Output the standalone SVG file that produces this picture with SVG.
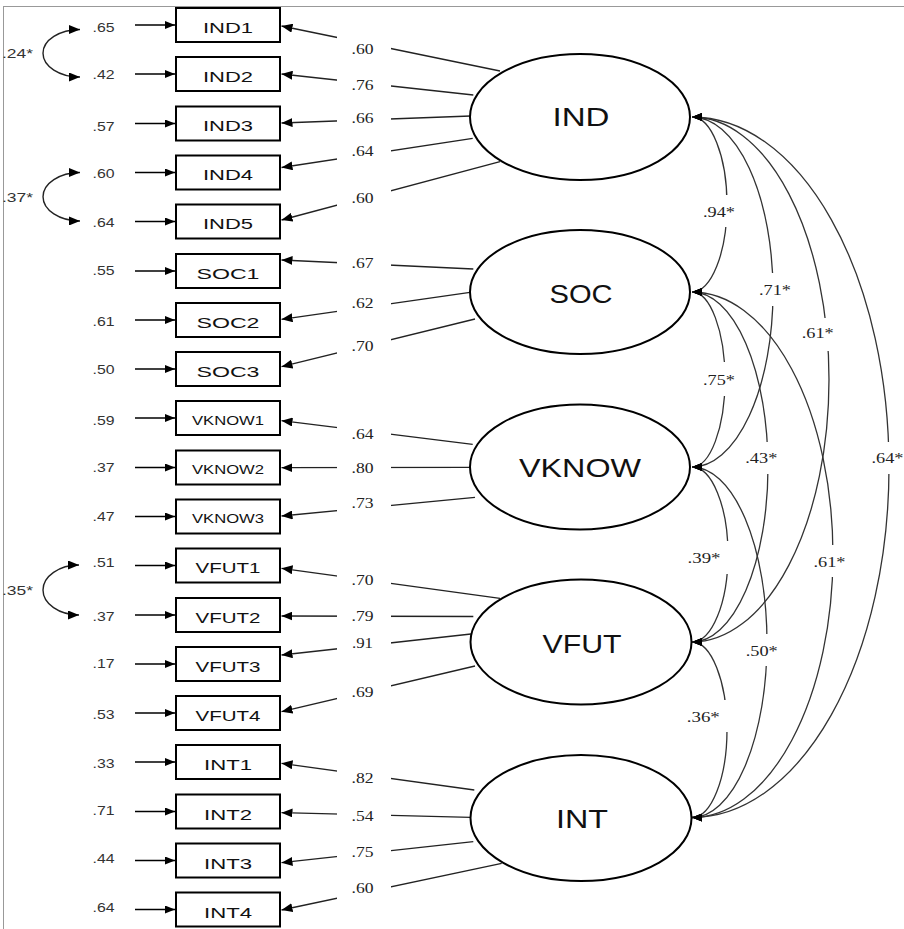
<svg xmlns="http://www.w3.org/2000/svg" width="904" height="929" viewBox="0 0 904 929">
<style>
.box{fill:#fff;stroke:#000;stroke-width:2}
.lat{fill:#fff;stroke:#000;stroke-width:2}
.bt{font-family:"Liberation Sans",Arial,sans-serif;font-size:15px;fill:#111;text-anchor:middle}
.bts{font-family:"Liberation Sans",Arial,sans-serif;font-size:13px;fill:#111;text-anchor:middle}
.lt{font-family:"Liberation Sans",Arial,sans-serif;font-size:26px;fill:#111;text-anchor:middle}
.el{font-family:"Liberation Sans",Arial,sans-serif;font-size:13px;fill:#333;text-anchor:middle}
.cl{font-family:"Liberation Sans",Arial,sans-serif;font-size:13px;fill:#333}
.ld{font-family:"Liberation Serif","Times New Roman",serif;font-size:14px;fill:#222;text-anchor:middle}
.err{stroke:#000;stroke-width:1.4;fill:none;marker-end:url(#ah)}
.load{stroke:#222;stroke-width:1.3;fill:none;marker-end:url(#ahL)}
.cov{stroke:#333;stroke-width:1.3;fill:none;marker-start:url(#ah);marker-end:url(#ah)}
.lcov{stroke:#222;stroke-width:1.4;fill:none;marker-start:url(#ahC);marker-end:url(#ahC)}
</style>
<defs>
<marker id="ah" viewBox="0 0 10 8" refX="10" refY="4" markerWidth="10" markerHeight="8" markerUnits="userSpaceOnUse" orient="auto-start-reverse"><path d="M0,0 L10,4 L0,8 z" fill="#000"/></marker>
<marker id="ahL" viewBox="0 0 11 9" refX="11" refY="4.5" markerWidth="11" markerHeight="9" markerUnits="userSpaceOnUse" orient="auto-start-reverse"><path d="M0,0 L11,4.5 L0,9 z" fill="#000"/></marker>
<marker id="ahC" viewBox="0 0 11 9" refX="11" refY="4.5" markerWidth="11" markerHeight="9" markerUnits="userSpaceOnUse" orient="auto-start-reverse"><path d="M0,0 L11,4.5 L0,9 z" fill="#000"/></marker>
<mask id="loadGap" maskUnits="userSpaceOnUse" x="0" y="0" width="904" height="929">
<rect x="0" y="0" width="904" height="929" fill="#fff"/>
<rect x="337" y="0" width="54" height="929" fill="#000"/>
</mask>
<mask id="covGap" maskUnits="userSpaceOnUse" x="0" y="0" width="904" height="929">
<rect x="0" y="0" width="904" height="929" fill="#fff"/>
<rect x="719" y="195" width="16" height="32" fill="#000"/>
<rect x="765" y="273" width="16" height="33" fill="#000"/>
<rect x="817" y="318" width="20" height="33" fill="#000"/>
<rect x="717" y="362" width="16" height="34" fill="#000"/>
<rect x="760" y="442" width="16" height="32" fill="#000"/>
<rect x="881" y="442" width="16" height="32" fill="#000"/>
<rect x="720" y="541" width="16" height="33" fill="#000"/>
<rect x="825" y="545" width="16" height="32" fill="#000"/>
<rect x="759" y="634" width="16" height="32" fill="#000"/>
<rect x="719" y="700" width="16" height="32" fill="#000"/>
</mask>
</defs>
<rect x="0" y="0" width="904" height="929" fill="#fff"/>
<g id="frame" stroke="#999" stroke-width="1" fill="none">
<line x1="3" y1="6.5" x2="904" y2="6.5"/>
<line x1="3.5" y1="6" x2="3.5" y2="929"/>
</g>

<g id="connectors">
<g id="error-arrows">
<line class="err" x1="135" y1="25" x2="175" y2="25"/>
<line class="err" x1="135" y1="74" x2="175" y2="74"/>
<line class="err" x1="135" y1="123.5" x2="175" y2="123.5"/>
<line class="err" x1="135" y1="172.5" x2="175" y2="172.5"/>
<line class="err" x1="135" y1="221.5" x2="175" y2="221.5"/>
<line class="err" x1="135" y1="271" x2="175" y2="271"/>
<line class="err" x1="135" y1="320" x2="175" y2="320"/>
<line class="err" x1="135" y1="369" x2="175" y2="369"/>
<line class="err" x1="135" y1="418" x2="175" y2="418"/>
<line class="err" x1="135" y1="467.5" x2="175" y2="467.5"/>
<line class="err" x1="135" y1="516.5" x2="175" y2="516.5"/>
<line class="err" x1="135" y1="565.5" x2="175" y2="565.5"/>
<line class="err" x1="135" y1="615" x2="175" y2="615"/>
<line class="err" x1="135" y1="664" x2="175" y2="664"/>
<line class="err" x1="135" y1="713" x2="175" y2="713"/>
<line class="err" x1="135" y1="762" x2="175" y2="762"/>
<line class="err" x1="135" y1="811.5" x2="175" y2="811.5"/>
<line class="err" x1="135" y1="860.5" x2="175" y2="860.5"/>
<line class="err" x1="135" y1="909.5" x2="175" y2="909.5"/>
</g>
<g id="error-covariances">
<path class="lcov" d="M80 29.5 A37 23.75 0 0 0 80 77"/>
<path class="lcov" d="M80 172.5 A37 24.25 0 0 0 80 221"/>
<path class="lcov" d="M79 565 A36 25 0 0 0 79 615"/>
</g>
<g id="loadings" mask="url(#loadGap)">
<line class="load" x1="500" y1="71" x2="281.5" y2="26"/>
<line class="load" x1="473.3" y1="95" x2="281.5" y2="74"/>
<line class="load" x1="470.7" y1="116" x2="281.5" y2="123"/>
<line class="load" x1="472.7" y1="138.3" x2="281.5" y2="167.5"/>
<line class="load" x1="500" y1="161.7" x2="281.5" y2="220"/>
<line class="load" x1="473.3" y1="269" x2="281.5" y2="260"/>
<line class="load" x1="470" y1="292.3" x2="281.5" y2="319.3"/>
<line class="load" x1="475" y1="319" x2="281.5" y2="366.7"/>
<line class="load" x1="472.7" y1="444.3" x2="281.5" y2="420.7"/>
<line class="load" x1="470.7" y1="467.3" x2="281.5" y2="467.7"/>
<line class="load" x1="475" y1="497.3" x2="281.5" y2="516"/>
<line class="load" x1="500" y1="598.3" x2="281.5" y2="568.3"/>
<line class="load" x1="473.3" y1="616.5" x2="281.5" y2="616"/>
<line class="load" x1="471" y1="634" x2="281.5" y2="655"/>
<line class="load" x1="475" y1="666" x2="281.5" y2="711.7"/>
<line class="load" x1="474.3" y1="790" x2="281.5" y2="763.3"/>
<line class="load" x1="471" y1="817.3" x2="281.5" y2="812.7"/>
<line class="load" x1="473.3" y1="841.7" x2="281.5" y2="862.7"/>
<line class="load" x1="501.7" y1="863.3" x2="281.5" y2="910"/>
</g>
<g id="factor-covariances" mask="url(#covGap)">
<path class="cov" d="M692 117 A35 87.5 0 0 1 692 292"/>
<path class="cov" d="M692 117 A81 175 0 0 1 692 467"/>
<path class="cov" d="M692 117 A137 262.5 0 0 1 692 642"/>
<path class="cov" d="M692 117 A197 350.25 0 0 1 692 817.5"/>
<path class="cov" d="M692 292 A33 87.5 0 0 1 692 467"/>
<path class="cov" d="M692 292 A76 175 0 0 1 692 642"/>
<path class="cov" d="M692 292 A141 262.75 0 0 1 692 817.5"/>
<path class="cov" d="M692 467 A36 87.5 0 0 1 692 642"/>
<path class="cov" d="M692 467 A75 175.25 0 0 1 692 817.5"/>
<path class="cov" d="M692 642 A35 87.75 0 0 1 692 817.5"/>
</g>
</g>

<g id="connector-labels">
<g id="error-variance-labels" class="el">
<text x="103.5" y="32" textLength="22" lengthAdjust="spacingAndGlyphs">.65</text>
<text x="103.5" y="79" textLength="22" lengthAdjust="spacingAndGlyphs">.42</text>
<text x="103.5" y="131" textLength="22" lengthAdjust="spacingAndGlyphs">.57</text>
<text x="103.5" y="178" textLength="22" lengthAdjust="spacingAndGlyphs">.60</text>
<text x="103.5" y="227" textLength="22" lengthAdjust="spacingAndGlyphs">.64</text>
<text x="103.5" y="274.5" textLength="22" lengthAdjust="spacingAndGlyphs">.55</text>
<text x="103.5" y="325.5" textLength="22" lengthAdjust="spacingAndGlyphs">.61</text>
<text x="103.5" y="374" textLength="22" lengthAdjust="spacingAndGlyphs">.50</text>
<text x="103.5" y="425" textLength="22" lengthAdjust="spacingAndGlyphs">.59</text>
<text x="103.5" y="472" textLength="22" lengthAdjust="spacingAndGlyphs">.37</text>
<text x="103.5" y="521" textLength="22" lengthAdjust="spacingAndGlyphs">.47</text>
<text x="103.5" y="567" textLength="22" lengthAdjust="spacingAndGlyphs">.51</text>
<text x="103.5" y="621" textLength="22" lengthAdjust="spacingAndGlyphs">.37</text>
<text x="103.5" y="667.5" textLength="22" lengthAdjust="spacingAndGlyphs">.17</text>
<text x="103.5" y="719" textLength="22" lengthAdjust="spacingAndGlyphs">.53</text>
<text x="103.5" y="767.5" textLength="22" lengthAdjust="spacingAndGlyphs">.33</text>
<text x="103.5" y="815" textLength="22" lengthAdjust="spacingAndGlyphs">.71</text>
<text x="103.5" y="862.5" textLength="22" lengthAdjust="spacingAndGlyphs">.44</text>
<text x="103.5" y="911.5" textLength="22" lengthAdjust="spacingAndGlyphs">.64</text>
</g>
<g id="error-covariance-labels" class="cl">
<text x="2" y="58" textLength="31" lengthAdjust="spacingAndGlyphs">.24*</text>
<text x="2" y="201.5" textLength="31" lengthAdjust="spacingAndGlyphs">.37*</text>
<text x="2" y="595" textLength="31" lengthAdjust="spacingAndGlyphs">.35*</text>
</g>
<g id="loading-labels" class="ld">
<text x="362.5" y="53.5" textLength="22" lengthAdjust="spacingAndGlyphs">.60</text>
<text x="362.5" y="90" textLength="22" lengthAdjust="spacingAndGlyphs">.76</text>
<text x="362.5" y="122.5" textLength="22" lengthAdjust="spacingAndGlyphs">.66</text>
<text x="362.5" y="156" textLength="22" lengthAdjust="spacingAndGlyphs">.64</text>
<text x="362.5" y="202.5" textLength="22" lengthAdjust="spacingAndGlyphs">.60</text>
<text x="362.5" y="268" textLength="22" lengthAdjust="spacingAndGlyphs">.67</text>
<text x="362.5" y="308" textLength="22" lengthAdjust="spacingAndGlyphs">.62</text>
<text x="362.5" y="351" textLength="22" lengthAdjust="spacingAndGlyphs">.70</text>
<text x="362.5" y="439" textLength="22" lengthAdjust="spacingAndGlyphs">.64</text>
<text x="362.5" y="473" textLength="22" lengthAdjust="spacingAndGlyphs">.80</text>
<text x="362.5" y="508" textLength="22" lengthAdjust="spacingAndGlyphs">.73</text>
<text x="362.5" y="585" textLength="22" lengthAdjust="spacingAndGlyphs">.70</text>
<text x="362.5" y="621" textLength="22" lengthAdjust="spacingAndGlyphs">.79</text>
<text x="362.5" y="647.5" textLength="21" lengthAdjust="spacingAndGlyphs">.91</text>
<text x="362.5" y="697" textLength="22" lengthAdjust="spacingAndGlyphs">.69</text>
<text x="362.5" y="782.5" textLength="22" lengthAdjust="spacingAndGlyphs">.82</text>
<text x="362.5" y="821" textLength="22" lengthAdjust="spacingAndGlyphs">.54</text>
<text x="362.5" y="856.5" textLength="22" lengthAdjust="spacingAndGlyphs">.75</text>
<text x="362.5" y="893" textLength="22" lengthAdjust="spacingAndGlyphs">.60</text>
</g>
<g id="factor-covariance-labels" class="ld">
<text x="719" y="216.5" textLength="32" lengthAdjust="spacingAndGlyphs">.94*</text>
<text x="775" y="295" textLength="32" lengthAdjust="spacingAndGlyphs">.71*</text>
<text x="817.7" y="338" textLength="32" lengthAdjust="spacingAndGlyphs">.61*</text>
<text x="719" y="385" textLength="32" lengthAdjust="spacingAndGlyphs">.75*</text>
<text x="761.3" y="463" textLength="32" lengthAdjust="spacingAndGlyphs">.43*</text>
<text x="887.5" y="463" textLength="32" lengthAdjust="spacingAndGlyphs">.64*</text>
<text x="704" y="563" textLength="33" lengthAdjust="spacingAndGlyphs">.39*</text>
<text x="829.5" y="567" textLength="32" lengthAdjust="spacingAndGlyphs">.61*</text>
<text x="761.7" y="655.5" textLength="32" lengthAdjust="spacingAndGlyphs">.50*</text>
<text x="703.3" y="722" textLength="33" lengthAdjust="spacingAndGlyphs">.36*</text>
</g>
</g>

<g id="IND1"><rect class="box" x="176" y="8" width="104" height="34"/><text class="bt" x="228" y="32.5" textLength="50" lengthAdjust="spacingAndGlyphs">IND1</text></g>
<g id="IND2"><rect class="box" x="176" y="57" width="104" height="34"/><text class="bt" x="228" y="81.5" textLength="50" lengthAdjust="spacingAndGlyphs">IND2</text></g>
<g id="IND3"><rect class="box" x="176" y="106.5" width="104" height="34"/><text class="bt" x="228" y="131" textLength="50" lengthAdjust="spacingAndGlyphs">IND3</text></g>
<g id="IND4"><rect class="box" x="176" y="155.5" width="104" height="34"/><text class="bt" x="228" y="180" textLength="50" lengthAdjust="spacingAndGlyphs">IND4</text></g>
<g id="IND5"><rect class="box" x="176" y="204.5" width="104" height="34"/><text class="bt" x="228" y="229" textLength="50" lengthAdjust="spacingAndGlyphs">IND5</text></g>
<g id="SOC1"><rect class="box" x="176" y="254" width="104" height="34"/><text class="bt" x="228" y="278.5" textLength="63" lengthAdjust="spacingAndGlyphs">SOC1</text></g>
<g id="SOC2"><rect class="box" x="176" y="303" width="104" height="34"/><text class="bt" x="228" y="327.5" textLength="63" lengthAdjust="spacingAndGlyphs">SOC2</text></g>
<g id="SOC3"><rect class="box" x="176" y="352" width="104" height="34"/><text class="bt" x="228" y="376.5" textLength="63" lengthAdjust="spacingAndGlyphs">SOC3</text></g>
<g id="VKNOW1"><rect class="box" x="176" y="401" width="104" height="34"/><text class="bts" x="228" y="424.5" textLength="72" lengthAdjust="spacingAndGlyphs">VKNOW1</text></g>
<g id="VKNOW2"><rect class="box" x="176" y="450.5" width="104" height="34"/><text class="bts" x="228" y="474" textLength="72" lengthAdjust="spacingAndGlyphs">VKNOW2</text></g>
<g id="VKNOW3"><rect class="box" x="176" y="499.5" width="104" height="34"/><text class="bts" x="228" y="523" textLength="72" lengthAdjust="spacingAndGlyphs">VKNOW3</text></g>
<g id="VFUT1"><rect class="box" x="176" y="548.5" width="104" height="34"/><text class="bt" x="228" y="573" textLength="65" lengthAdjust="spacingAndGlyphs">VFUT1</text></g>
<g id="VFUT2"><rect class="box" x="176" y="598" width="104" height="34"/><text class="bt" x="228" y="622.5" textLength="65" lengthAdjust="spacingAndGlyphs">VFUT2</text></g>
<g id="VFUT3"><rect class="box" x="176" y="647" width="104" height="34"/><text class="bt" x="228" y="671.5" textLength="65" lengthAdjust="spacingAndGlyphs">VFUT3</text></g>
<g id="VFUT4"><rect class="box" x="176" y="696" width="104" height="34"/><text class="bt" x="228" y="720.5" textLength="65" lengthAdjust="spacingAndGlyphs">VFUT4</text></g>
<g id="INT1"><rect class="box" x="176" y="745" width="104" height="34"/><text class="bt" x="228" y="770" textLength="48" lengthAdjust="spacingAndGlyphs">INT1</text></g>
<g id="INT2"><rect class="box" x="176" y="794.5" width="104" height="34"/><text class="bt" x="228" y="819.5" textLength="48" lengthAdjust="spacingAndGlyphs">INT2</text></g>
<g id="INT3"><rect class="box" x="176" y="843.5" width="104" height="34"/><text class="bt" x="228" y="868.5" textLength="48" lengthAdjust="spacingAndGlyphs">INT3</text></g>
<g id="INT4"><rect class="box" x="176" y="892.5" width="104" height="34"/><text class="bt" x="228" y="917.5" textLength="48" lengthAdjust="spacingAndGlyphs">INT4</text></g>

<g id="IND"><ellipse class="lat" cx="580" cy="117" rx="110" ry="63"/><text class="lt" x="581" y="126" textLength="57" lengthAdjust="spacingAndGlyphs">IND</text></g>
<g id="SOC"><ellipse class="lat" cx="580" cy="292" rx="110" ry="62"/><text class="lt" x="581" y="302.5" textLength="63" lengthAdjust="spacingAndGlyphs">SOC</text></g>
<g id="VKNOW"><ellipse class="lat" cx="580" cy="467" rx="110" ry="62.5"/><text class="lt" x="580" y="477" textLength="122" lengthAdjust="spacingAndGlyphs">VKNOW</text></g>
<g id="VFUT"><ellipse class="lat" cx="581" cy="642" rx="110.5" ry="62.5"/><text class="lt" x="582" y="653" textLength="79" lengthAdjust="spacingAndGlyphs">VFUT</text></g>
<g id="INT"><ellipse class="lat" cx="581" cy="818" rx="110.5" ry="63"/><text class="lt" x="582" y="828" textLength="52" lengthAdjust="spacingAndGlyphs">INT</text></g>
</svg>
